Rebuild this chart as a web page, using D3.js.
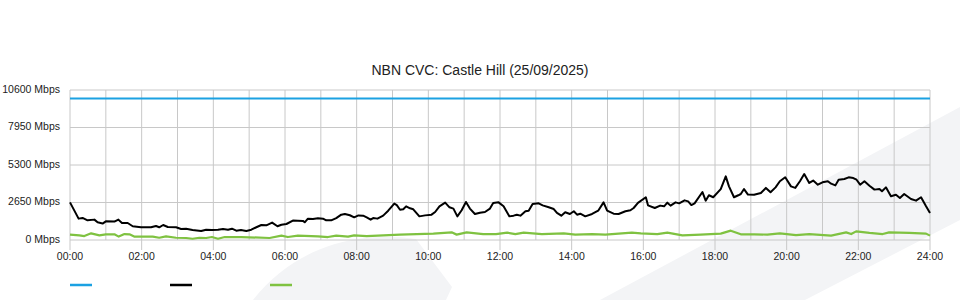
<!DOCTYPE html>
<html>
<head>
<meta charset="utf-8">
<script src="https://cdn.jsdelivr.net/npm/d3@7"></script>
<style>
  body { margin: 0; background: #fff; }
  svg { display: block; font-family: Arial, "Liberation Sans", sans-serif; }
</style>
</head>
<body>
<div id="chart"></div>
<script>
'use strict';

// chart data (hours since midnight, Mbps)
var title = 'NBN CVC: Castle Hill (25/09/2025)';
var yTicks = [0, 2650, 5300, 7950, 10600];
var xTicks = [0, 2, 4, 6, 8, 10, 12, 14, 16, 18, 20, 22, 24];

var capacityTimes = [0, 24];
var capacityValues = [10000, 10000];

var downTimes = [0.00, 0.24, 0.35, 0.49, 0.68, 0.77, 0.91, 1.00, 1.24, 1.35, 1.45, 1.61, 1.75, 1.98, 2.26, 2.40, 2.49, 2.60, 2.73, 2.96,
  3.10, 3.24, 3.42, 3.66, 3.80, 3.96, 4.13, 4.27, 4.41, 4.52, 4.64, 4.77, 4.92, 5.06, 5.20, 5.34, 5.48, 5.64, 5.79, 5.90,
  6.04, 6.22, 6.50, 6.55, 6.64, 6.78, 6.92, 7.06, 7.15, 7.29, 7.43, 7.57, 7.67, 7.81, 7.93, 8.05, 8.18, 8.28, 8.39, 8.46,
  8.58, 8.74, 8.88, 9.05, 9.12, 9.21, 9.30, 9.38, 9.49, 9.58, 9.75, 9.91, 10.09, 10.19, 10.31, 10.47, 10.59, 10.70, 10.81, 10.93,
  11.05, 11.16, 11.30, 11.44, 11.58, 11.72, 11.81, 11.96, 12.10, 12.26, 12.38, 12.47, 12.57, 12.71, 12.80, 12.91, 13.08, 13.19, 13.36, 13.50,
  13.59, 13.71, 13.82, 13.95, 14.06, 14.15, 14.24, 14.38, 14.57, 14.74, 14.89, 14.99, 15.17, 15.31, 15.50, 15.64, 15.73, 15.85, 16.07, 16.13,
  16.32, 16.47, 16.58, 16.67, 16.76, 16.90, 17.00, 17.15, 17.25, 17.34, 17.43, 17.65, 17.74, 17.83, 17.95, 18.16, 18.30, 18.39, 18.53, 18.65,
  18.72, 18.81, 18.92, 19.09, 19.28, 19.42, 19.55, 19.69, 19.81, 19.96, 20.12, 20.24, 20.37, 20.49, 20.63, 20.74, 20.87, 21.00, 21.15, 21.24,
  21.36, 21.45, 21.61, 21.73, 21.86, 21.95, 22.05, 22.17, 22.31, 22.45, 22.59, 22.66, 22.77, 22.91, 23.05, 23.16, 23.28, 23.47, 23.61, 23.75,
  23.89, 24.00];
var downValues = [2660, 1510, 1560, 1390, 1440, 1250, 1160, 1320, 1300, 1440, 1200, 1200, 970, 900, 900, 990, 900, 1060, 920, 900,
  780, 790, 710, 640, 730, 710, 730, 780, 730, 800, 660, 700, 640, 730, 900, 1060, 1040, 1230, 970, 1080,
  1130, 1370, 1350, 1250, 1510, 1480, 1530, 1510, 1390, 1390, 1550, 1790, 1840, 1750, 1600, 1740, 1720, 1600, 1440, 1550,
  1510, 1720, 2070, 2570, 2460, 2140, 2170, 2380, 2240, 2170, 1670, 1740, 1790, 1980, 2380, 2640, 2310, 2220, 1670, 2100,
  2690, 2220, 1840, 1930, 1980, 2220, 2620, 2660, 2380, 1670, 1720, 1790, 1720, 2030, 2070, 2540, 2590, 2450, 2310, 2190,
  1910, 1720, 1960, 1840, 2030, 1790, 1860, 1670, 1840, 2070, 2660, 2070, 1860, 1840, 2030, 2100, 2260, 2620, 3020, 2450,
  2260, 2430, 2380, 2640, 2430, 2660, 2590, 2800, 2730, 2470, 2590, 3390, 2780, 3160, 3020, 3600, 4500, 3790, 3020, 3160,
  3250, 3600, 3210, 3200, 3320, 3680, 3370, 3720, 4150, 4430, 3790, 3680, 4150, 4660, 4030, 4200, 3910, 4080, 4150, 3980,
  3860, 4260, 4310, 4430, 4380, 4260, 3910, 4150, 3840, 3560, 3600, 3440, 3720, 3090, 3200, 2970, 3250, 2900, 2780, 3020,
  2380, 1910];

var upTimes = [0.00, 0.26, 0.40, 0.59, 0.82, 1.00, 1.24, 1.36, 1.52, 1.66, 1.79, 2.03, 2.31, 2.49, 2.68, 2.96, 3.24, 3.42, 3.61, 3.80,
  3.96, 4.13, 4.32, 4.78, 5.57, 5.90, 6.08, 6.36, 6.92, 7.20, 7.43, 7.76, 7.93, 8.28, 9.21, 10.14, 10.65, 10.79, 11.07, 11.53,
  11.89, 12.20, 12.43, 12.66, 13.17, 13.78, 14.10, 14.57, 14.94, 15.68, 15.93, 16.39, 16.67, 17.09, 17.60, 18.16, 18.44, 18.72, 19.09, 19.46,
  19.81, 20.26, 20.63, 21.24, 21.66, 21.80, 21.94, 22.31, 22.68, 22.86, 23.42, 23.89, 24.00];
var upValues = [380, 330, 280, 470, 330, 400, 400, 240, 420, 400, 240, 240, 240, 160, 260, 160, 140, 90, 160, 140,
  210, 90, 210, 210, 140, 310, 210, 310, 260, 210, 310, 240, 330, 280, 380, 450, 540, 380, 540, 420,
  420, 520, 420, 520, 420, 470, 380, 420, 380, 520, 470, 420, 520, 330, 380, 450, 660, 400, 400, 380,
  470, 350, 420, 310, 540, 420, 610, 500, 420, 540, 500, 450, 310];

var series = [
  { color: '#1ba1e2', width: 2, times: capacityTimes, values: capacityValues },
  { color: '#000000', width: 2, times: downTimes, values: downValues },
  { color: '#7fc241', width: 2.2, times: upTimes, values: upValues }
];

var width = 960, height = 300;
var margin = { top: 90, right: 30, bottom: 60, left: 70 };

var svg = d3.select('#chart').append('svg')
  .attr('width', width)
  .attr('height', height);

// faint watermark shapes in the background
svg.append('path')
  .attr('d', 'M600,300 L960,107 L960,220 L805,300 Z')
  .attr('fill', '#f3f4f6');
svg.append('path')
  .attr('d', 'M253,300 C280,265 320,243 365,238 C385,236 405,237 416,239 L452,287 L446,300 Z')
  .attr('fill', '#f3f4f6');

var x = d3.scaleLinear()
  .domain([0, 24])
  .range([margin.left, width - margin.right]);

var y = d3.scaleLinear()
  .domain([0, 10600])
  .range([height - margin.bottom, margin.top]);

var gridColor = '#c8c8c8';

// hourly vertical grid
svg.append('g').selectAll('line')
  .data(d3.range(0, 25))
  .enter()
  .append('line')
  .attr('x1', function(d) { return x(d) })
  .attr('x2', function(d) { return x(d) })
  .attr('y1', y(10600))
  .attr('y2', y(0))
  .attr('stroke', gridColor)
  .attr('stroke-width', 1);

// horizontal grid
svg.append('g').selectAll('line')
  .data(yTicks)
  .enter()
  .append('line')
  .attr('x1', x(0))
  .attr('x2', x(24))
  .attr('y1', function(d) { return y(d) })
  .attr('y2', function(d) { return y(d) })
  .attr('stroke', gridColor)
  .attr('stroke-width', 1);

// x ticks and labels
var xAxis = svg.append('g').attr('class', 'x-axis');
xAxis.selectAll('line')
  .data(xTicks)
  .enter()
  .append('line')
  .attr('x1', function(d) { return x(d) })
  .attr('x2', function(d) { return x(d) })
  .attr('y1', y(0))
  .attr('y2', y(0) + 10)
  .attr('stroke', gridColor);
xAxis.selectAll('text')
  .data(xTicks)
  .enter()
  .append('text')
  .attr('x', function(d) { return x(d) })
  .attr('y', y(0) + 20)
  .attr('text-anchor', 'middle')
  .style('font-size', '10.5px')
  .style('fill', '#222')
  .text(function(d) { return (d < 10 ? '0' : '') + d + ':00' });

// y labels
svg.append('g').selectAll('text')
  .data(yTicks)
  .enter()
  .append('text')
  .attr('x', margin.left - 10)
  .attr('y', function(d) { return y(d) + 2.5 })
  .attr('text-anchor', 'end')
  .style('font-size', '10.5px')
  .style('fill', '#222')
  .text(function(d) { return d + ' Mbps' });

// title
svg.append('text')
  .attr('x', width / 2)
  .attr('y', 75)
  .attr('text-anchor', 'middle')
  .style('font-size', '14px')
  .style('fill', '#222')
  .text(title);

// lines
var line = d3.line()
  .x(function(d) { return x(d[0]) })
  .y(function(d) { return y(d[1]) });

series.forEach(function(s) {
  var pts = s.times.map(function(t, i) { return [t, s.values[i]] });
  svg.append('path')
    .datum(pts)
    .attr('d', line)
    .attr('fill', 'none')
    .attr('stroke', s.color)
    .attr('stroke-width', s.width)
    .attr('stroke-linejoin', 'round');
});

// legend swatches (no labels in the original)
var legend = svg.append('g')
  .attr('class', 'legend')
  .attr('transform', 'translate(' + margin.left + ',285)');

legend.selectAll('line')
  .data(series)
  .enter()
  .append('line')
  .attr('x1', function(d, i) { return i * 100 })
  .attr('x2', function(d, i) { return i * 100 + 22 })
  .attr('y1', 0)
  .attr('y2', 0)
  .attr('stroke', function(d) { return d.color })
  .attr('stroke-width', 2.5);
</script>
</body>
</html>
